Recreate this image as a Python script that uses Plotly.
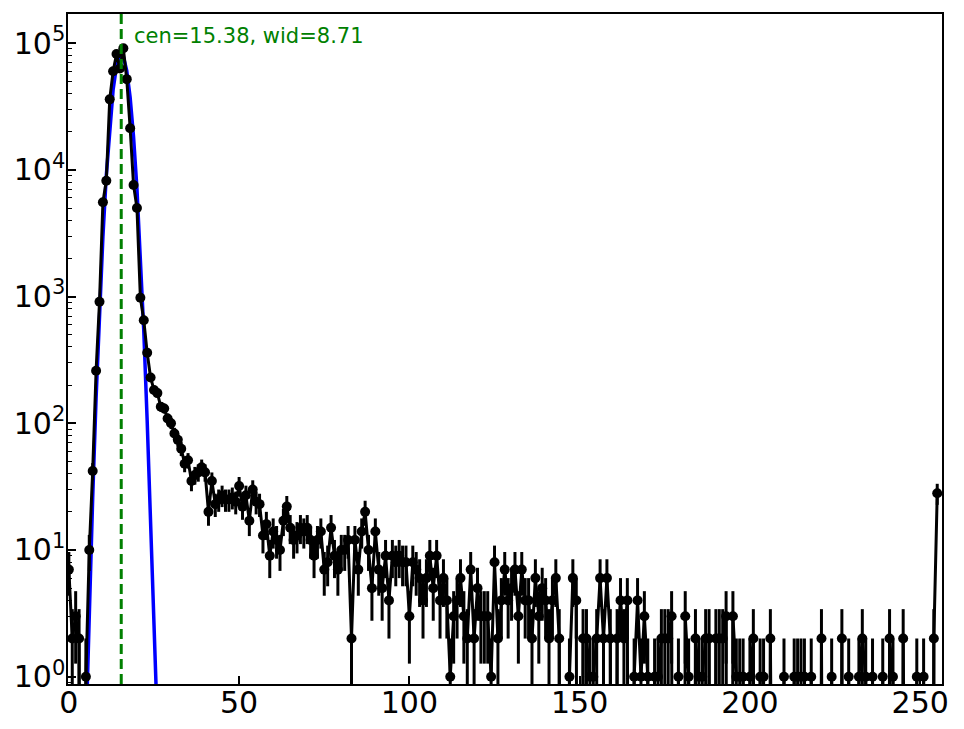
import numpy as np
import plotly.graph_objects as go

# histogram of pixel values (0..255), counts
bins = list(range(256))
counts = [
    7, 2, 3, 2, 0, 1, 10, 42, 260, 910, 5550, 8200, 36000, 60000, 82000, 63000,
    91000, 52000, 21300, 7600, 5000, 980, 650, 360, 230, 183, 173, 135, 131, 109, 100, 83,
    74, 63, 48, 51, 35, 39, 41, 45, 41, 20, 35, 23, 25, 27, 25, 25,
    26, 24, 32, 22, 27, 17, 30, 24, 23, 13, 16, 9, 14, 12, 10, 17,
    22, 15, 12, 13, 15, 14, 15, 12, 9, 12, 14, 7, 8, 15, 9, 7,
    10, 10, 12, 2, 12, 7, 14, 20, 10, 5, 14, 7, 5, 9, 4, 9,
    8, 9, 8, 8, 3, 8, 7, 6, 4, 6, 9, 5, 9, 4, 6, 4,
    1, 3, 4, 6, 3, 2, 7, 2, 5, 3, 3, 3, 1, 8, 2, 4,
    7, 4, 5, 7, 3, 7, 4, 4, 2, 6, 3, 5, 4, 2, 4, 6,
    2, 0, 0, 1, 6, 4, 0, 2, 2, 1, 1, 2, 6, 2, 6, 2,
    0, 2, 4, 2, 4, 0, 1, 4, 1, 3, 1, 0, 1, 1, 2, 2,
    2, 3, 0, 1, 0, 3, 1, 0, 2, 1, 1, 2, 2, 0, 2, 2,
    2, 3, 0, 3, 1, 1, 1, 0, 1, 2, 0, 1, 1, 0, 2, 0,
    0, 0, 1, 0, 0, 1, 1, 1, 1, 0, 1, 0, 0, 2, 0, 0,
    1, 0, 0, 2, 0, 1, 0, 0, 1, 2, 1, 0, 1, 0, 0, 1,
    0, 2, 1, 0, 0, 2, 0, 0, 0, 1, 0, 1, 0, 0, 2, 28,
]

# gaussian fit parameters (amp * exp(-(x-cen)^2 / wid))
fit_amp = 82000.0
fit_cen = 15.38
fit_wid = 8.71

y_tick_vals = [1, 10, 100, 1000, 10000, 100000]
y_tick_text = ["10<sup>%d</sup>" % i for i in range(6)]
x_tick_vals = [0, 50, 100, 150, 200, 250]

x = np.array(bins, dtype=float)
y = np.array(counts, dtype=float)
err = np.sqrt(y)

# log axis: zero bins are pushed far below the axis so the line drops off like matplotlib's clip
tiny = 1e-10
y_plot = np.where(y > 0, y, tiny)
err_dn = np.where(y - err > 0, err, y_plot - tiny)

best_fit = fit_amp * np.exp(-(x - fit_cen) ** 2 / fit_wid)
best_fit = np.where(best_fit > tiny, best_fit, tiny)

fig = go.Figure()

fig.add_trace(go.Scatter(
    x=x, y=best_fit, mode="lines",
    line=dict(color="#0000ff", width=3.5),
    showlegend=False, hoverinfo="skip",
))

fig.add_trace(go.Scatter(
    x=x, y=y_plot, mode="lines+markers",
    line=dict(color="black", width=3),
    marker=dict(color="black", size=10),
    error_y=dict(type="data", symmetric=False, array=err, arrayminus=err_dn,
                 color="black", thickness=3, width=0),
    showlegend=False,
))

fig.add_shape(type="line", xref="x", yref="paper",
              x0=fit_cen, x1=fit_cen, y0=0, y1=1,
              line=dict(color="#008000", width=3, dash="10px,5px"))

fig.add_annotation(x=18.4, xref="x", y=0.967, yref="paper",
                   text="cen=%.2f, wid=%.2f" % (fit_cen, fit_wid),
                   showarrow=False, xanchor="left", yanchor="middle",
                   font=dict(color="#008000", size=21))

# the page body has an 8px margin, so the figure is shrunk to keep the plot box in place
fig.update_layout(
    width=948, height=713,
    margin=dict(l=60, r=14, t=6, b=37),
    plot_bgcolor="white", paper_bgcolor="white",
    font=dict(family="DejaVu Sans", color="black", size=30),
)

fig.update_xaxes(
    range=[-0.25, 256.4],
    tickvals=x_tick_vals,
    ticks="inside", ticklen=8, tickwidth=1.5, tickcolor="black",
    ticklabelstandoff=-9,
    showgrid=False, zeroline=False, automargin=False,
    showline=True, mirror=True, linecolor="black", linewidth=1.5,
    tickfont=dict(size=30),
)

fig.update_yaxes(
    type="log",
    range=[-0.0576, 5.230],
    tickvals=y_tick_vals, ticktext=y_tick_text,
    ticks="inside", ticklen=8, tickwidth=1.5, tickcolor="black",
    ticklabelstandoff=-5,
    minor=dict(ticks="inside", ticklen=4, tickwidth=1.2, tickcolor="black", dtick="D1", showgrid=False),
    showgrid=False, zeroline=False, automargin=False,
    showline=True, mirror=True, linecolor="black", linewidth=1.5,
    tickfont=dict(size=30),
)

fig.write_html("out.html")
